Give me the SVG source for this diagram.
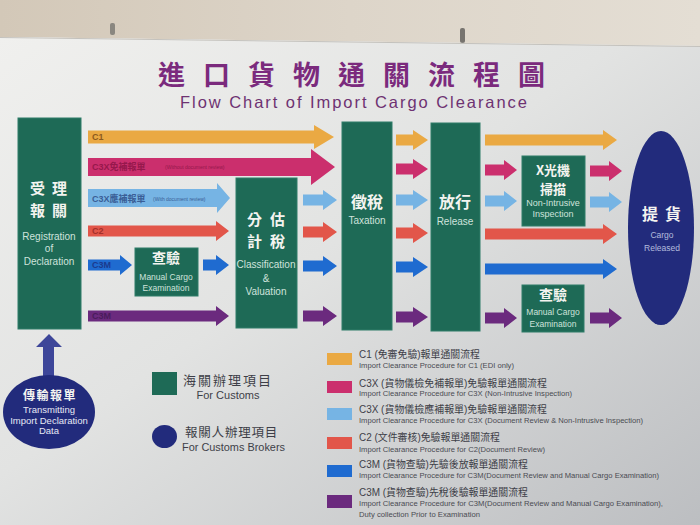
<svg xmlns="http://www.w3.org/2000/svg" width="700" height="525" viewBox="0 0 700 525">
<defs>
<linearGradient id="wall" x1="0" y1="0" x2="1" y2="0"><stop offset="0" stop-color="#d3c8b8"/><stop offset="0.5" stop-color="#ddd5c9"/><stop offset="1" stop-color="#e4ded4"/></linearGradient>
<linearGradient id="poster" x1="0" y1="0" x2="1" y2="1"><stop offset="0" stop-color="#f0f0ee"/><stop offset="0.45" stop-color="#e2e3e2"/><stop offset="1" stop-color="#bcbec1"/></linearGradient>
<style>
.box{fill:#1e6a56;stroke:#2f7d68;stroke-width:1}
.nav{fill:#222b7c}
.cjk{font-family:"Noto Sans CJK TC","Noto Sans CJK SC",sans-serif;font-weight:bold;fill:#f4f4f0;text-anchor:middle}
.en{font-family:"Liberation Sans",Arial,sans-serif;fill:#cfe3dc;text-anchor:middle}
.or{fill:#eaa943}.mg{fill:#cb2f6d}.lb{fill:#76b4e4}.rd{fill:#e2564a}.bl{fill:#1f6bd0}.pu{fill:#6b2a7e}
.lab{font-family:"Liberation Sans","Noto Sans CJK TC",sans-serif;font-weight:bold;font-size:9px}
.tiny{font-family:"Liberation Sans",sans-serif;font-size:5px}
.lgc{font-family:"Liberation Sans","Noto Sans CJK TC",sans-serif;font-size:10px;fill:#3e3f48}
.lge{font-family:"Liberation Sans",sans-serif;font-size:8px;fill:#4a4b52}
</style>
</defs>
<polygon points="0,0 700,0 700,46 0,37" fill="url(#wall)"/>
<rect x="110" y="23" width="5" height="12" rx="2" fill="#8a8780"/>
<rect x="460" y="28" width="5" height="15" rx="2" fill="#77746f"/>
<polygon points="0,37 700,46 700,525 0,525" fill="url(#poster)"/>
<line x1="0" y1="37.5" x2="700" y2="46.5" stroke="#c4c2bd" stroke-width="1"/>

<g id="title">
<text x="158" y="85" font-family="Noto Sans CJK TC, Noto Sans CJK SC, sans-serif" font-weight="bold" font-size="27" letter-spacing="18" fill="#7b2a7d">進口貨物通關流程圖</text>
<text x="180" y="108" font-family="Liberation Sans, Arial, sans-serif" font-size="16.5" fill="#6e3272" textLength="347" lengthAdjust="spacing">Flow Chart of Import Cargo Clearance</text>
</g>

<g id="connectors">
<path class="or" d="M88 130.5H314V125L334 137L314 149V143.5H88Z"/>
<path class="mg" d="M88 158H311V149L335 167L311 185V176H88Z"/>
<path class="lb" d="M88 189H217V183L230 198L217 213V207H88Z"/>
<path class="rd" d="M88 225.5H216V221L229 231L216 241V236.5H88Z"/>
<path class="bl" d="M88 259.5H120V255L132 265L120 275V270.5H88Z"/>
<path class="bl" d="M203 259.5H216V255L229 265L216 275V270.5H203Z"/>
<path class="pu" d="M88 310.5H216V306L229 316L216 326V321.5H88Z"/>

<path class="lb" d="M303 194.5H323V190L337 200L323 210V205.5H303Z"/>
<path class="rd" d="M303 226.5H323V222L337 232L323 242V237.5H303Z"/>
<path class="bl" d="M303 260.5H323V256L337 266L323 276V271.5H303Z"/>
<path class="pu" d="M303 310.5H323V306L337 316L323 326V321.5H303Z"/>

<path class="or" d="M396 134.5H413V130L428 140L413 150V145.5H396Z"/>
<path class="mg" d="M396 163.5H413V159L428 169L413 179V174.5H396Z"/>
<path class="lb" d="M396 194.5H413V190L428 200L413 210V205.5H396Z"/>
<path class="rd" d="M396 227.5H413V223L428 233L413 243V238.5H396Z"/>
<path class="bl" d="M396 261.5H413V257L428 267L413 277V272.5H396Z"/>
<path class="pu" d="M396 311.5H413V307L428 317L413 327V322.5H396Z"/>

<path class="or" d="M485 134.5H603V130L617 140L603 150V145.5H485Z"/>
<path class="mg" d="M485 164.5H504V160L517 170L504 180V175.5H485Z"/>
<path class="lb" d="M485 195.5H504V191L517 201L504 211V206.5H485Z"/>
<path class="rd" d="M485 228.5H603V224L617 234L603 244V239.5H485Z"/>
<path class="bl" d="M485 263.5H603V259L617 269L603 279V274.5H485Z"/>
<path class="pu" d="M485 312.5H504V308L517 318L504 328V323.5H485Z"/>

<path class="mg" d="M590 165.5H609V161L622 171L609 181V176.5H590Z"/>
<path class="lb" d="M590 196.5H609V192L622 202L609 212V207.5H590Z"/>
<path class="pu" d="M590 312.5H609V308L622 318L609 328V323.5H590Z"/>

<path d="M43 378V347H36L49 334L62 347H54V378Z" fill="#3d4699"/>

<text class="lab" x="92" y="140" fill="#8c5a1e">C1</text>
<text class="lab" x="92" y="170" fill="#96184c">C3X免補報單</text>
<text class="tiny" x="165" y="169" fill="#96184c">(Without document review)</text>
<text class="lab" x="92" y="202" fill="#3a5e96">C3X應補報單</text>
<text class="tiny" x="153" y="201" fill="#3a5e96">(With document review)</text>
<text class="lab" x="92" y="234" fill="#a3302a">C2</text>
<text class="lab" x="92" y="268" fill="#1b3a8e">C3M</text>
<text class="lab" x="92" y="319" fill="#4a1c5c">C3M</text>
</g>

<g id="registration">
<rect class="box" x="18" y="118" width="63" height="211"/>
<text class="cjk" x="52" y="194" font-size="15" letter-spacing="7">受理</text>
<text class="cjk" x="52" y="216" font-size="15" letter-spacing="7">報關</text>
<text class="en" x="49" y="240" font-size="10">Registration</text>
<text class="en" x="49" y="252" font-size="10">of</text>
<text class="en" x="49" y="265" font-size="10">Declaration</text>
</g>

<g id="exam-left">
<rect class="box" x="135" y="248" width="63" height="48"/>
<text class="cjk" x="166" y="263" font-size="14">查驗</text>
<text class="en" x="166" y="280" font-size="8.5">Manual Cargo</text>
<text class="en" x="166" y="291" font-size="8.5">Examination</text>
</g>

<g id="classification">
<rect class="box" x="236" y="178" width="61" height="150"/>
<text class="cjk" x="270" y="225" font-size="15" letter-spacing="8">分估</text>
<text class="cjk" x="270" y="247" font-size="15" letter-spacing="8">計稅</text>
<text class="en" x="266" y="268" font-size="10">Classification</text>
<text class="en" x="266" y="282" font-size="10">&amp;</text>
<text class="en" x="266" y="295" font-size="10">Valuation</text>
</g>

<g id="taxation">
<rect class="box" x="342" y="122" width="50" height="208"/>
<text class="cjk" x="367" y="208" font-size="16">徵稅</text>
<text class="en" x="367" y="224" font-size="10">Taxation</text>
</g>

<g id="release">
<rect class="box" x="431" y="123" width="49" height="208"/>
<text class="cjk" x="455" y="208" font-size="16">放行</text>
<text class="en" x="455" y="225" font-size="10">Release</text>
</g>

<g id="xray">
<rect class="box" x="522" y="156" width="63" height="70"/>
<text class="cjk" x="553" y="175" font-size="13">X光機</text>
<text class="cjk" x="553" y="194" font-size="13">掃描</text>
<text class="en" x="553" y="206" font-size="9">Non-Intrusive</text>
<text class="en" x="553" y="217" font-size="9">Inspection</text>
</g>

<g id="exam-right">
<rect class="box" x="522" y="285" width="62" height="47"/>
<text class="cjk" x="553" y="300" font-size="14">查驗</text>
<text class="en" x="553" y="315" font-size="8.5">Manual Cargo</text>
<text class="en" x="553" y="327" font-size="8.5">Examination</text>
</g>

<g id="cargo-released">
<ellipse class="nav" cx="661" cy="228" rx="33" ry="97"/>
<text class="cjk" x="665" y="220" font-size="16" letter-spacing="7">提貨</text>
<text class="en" x="662" y="238" font-size="8.5" style="fill:#b4bbdc">Cargo</text>
<text class="en" x="662" y="251" font-size="8.5" style="fill:#b4bbdc">Released</text>
</g>

<g id="transmitting">
<ellipse class="nav" cx="49" cy="412" rx="46" ry="37"/>
<text class="cjk" x="50" y="400" font-size="12" letter-spacing="1.5">傳輸報單</text>
<text class="en" x="49" y="413" font-size="9.5" style="fill:#e6e8f4">Transmitting</text>
<text class="en" x="49" y="424" font-size="9.5" style="fill:#e6e8f4">Import Declaration</text>
<text class="en" x="49" y="434" font-size="9.5" style="fill:#e6e8f4">Data</text>
</g>

<g id="legend-types">
<rect x="152" y="372" width="25" height="23" fill="#1e6a56"/>
<text x="183" y="385" font-family="Noto Sans CJK TC, sans-serif" font-size="13" letter-spacing="2" fill="#3e3f48">海關辦理項目</text>
<text x="228" y="399" font-family="Liberation Sans, sans-serif" font-size="11" text-anchor="middle" fill="#3e3f48">For Customs</text>
<ellipse cx="164.5" cy="436.5" rx="12.5" ry="11.5" fill="#222b7c"/>
<text x="185" y="437" font-family="Noto Sans CJK TC, sans-serif" font-size="12.5" letter-spacing="0.8" fill="#3e3f48">報關人辦理項目</text>
<text x="182" y="451" font-family="Liberation Sans, sans-serif" font-size="11" fill="#3e3f48" textLength="103" lengthAdjust="spacingAndGlyphs">For Customs Brokers</text>
</g>

<g id="legend-procedures">
<rect class="or" x="327" y="353" width="25" height="12"/>
<text class="lgc" x="359" y="358" textLength="121" lengthAdjust="spacingAndGlyphs">C1 (免審免驗)報單通關流程</text>
<text class="lge" x="359" y="368" textLength="155" lengthAdjust="spacingAndGlyphs">Import Clearance Procedure for C1 (EDI only)</text>
<rect class="mg" x="327" y="381" width="25" height="12"/>
<text class="lgc" x="359" y="387" textLength="188" lengthAdjust="spacingAndGlyphs">C3X (貨物儀檢免補報單)免驗報單通關流程</text>
<text class="lge" x="359" y="396" textLength="213" lengthAdjust="spacingAndGlyphs">Import Clearance Procedure for C3X (Non-Intrusive Inspection)</text>
<rect class="lb" x="327" y="408" width="25" height="12"/>
<text class="lgc" x="359" y="413" textLength="188" lengthAdjust="spacingAndGlyphs">C3X (貨物儀檢應補報單)免驗報單通關流程</text>
<text class="lge" x="359" y="423" textLength="284" lengthAdjust="spacingAndGlyphs">Import Clearance Procedure for C3X (Document Review &amp; Non-Intrusive Inspection)</text>
<rect class="rd" x="327" y="437" width="25" height="12"/>
<text class="lgc" x="359" y="441" textLength="141" lengthAdjust="spacingAndGlyphs">C2 (文件審核)免驗報單通關流程</text>
<text class="lge" x="359" y="452" textLength="186" lengthAdjust="spacingAndGlyphs">Import Clearance Procedure for C2(Document Review)</text>
<rect class="bl" x="327" y="465" width="25" height="12"/>
<text class="lgc" x="359" y="468" textLength="169" lengthAdjust="spacingAndGlyphs">C3M (貨物查驗)先驗後放報單通關流程</text>
<text class="lge" x="359" y="478" textLength="300" lengthAdjust="spacingAndGlyphs">Import Clearance Procedure for C3M(Document Review and Manual Cargo Examination)</text>
<rect class="pu" x="327" y="495" width="25" height="13"/>
<text class="lgc" x="359" y="496" textLength="169" lengthAdjust="spacingAndGlyphs">C3M (貨物查驗)先稅後驗報單通關流程</text>
<text class="lge" x="359" y="506" textLength="304" lengthAdjust="spacingAndGlyphs">Import Clearance Procedure for C3M(Document Review and Manual Cargo Examination),</text>
<text class="lge" x="359" y="517" textLength="121" lengthAdjust="spacingAndGlyphs">Duty collection Prior to Examination</text>
</g>
</svg>
